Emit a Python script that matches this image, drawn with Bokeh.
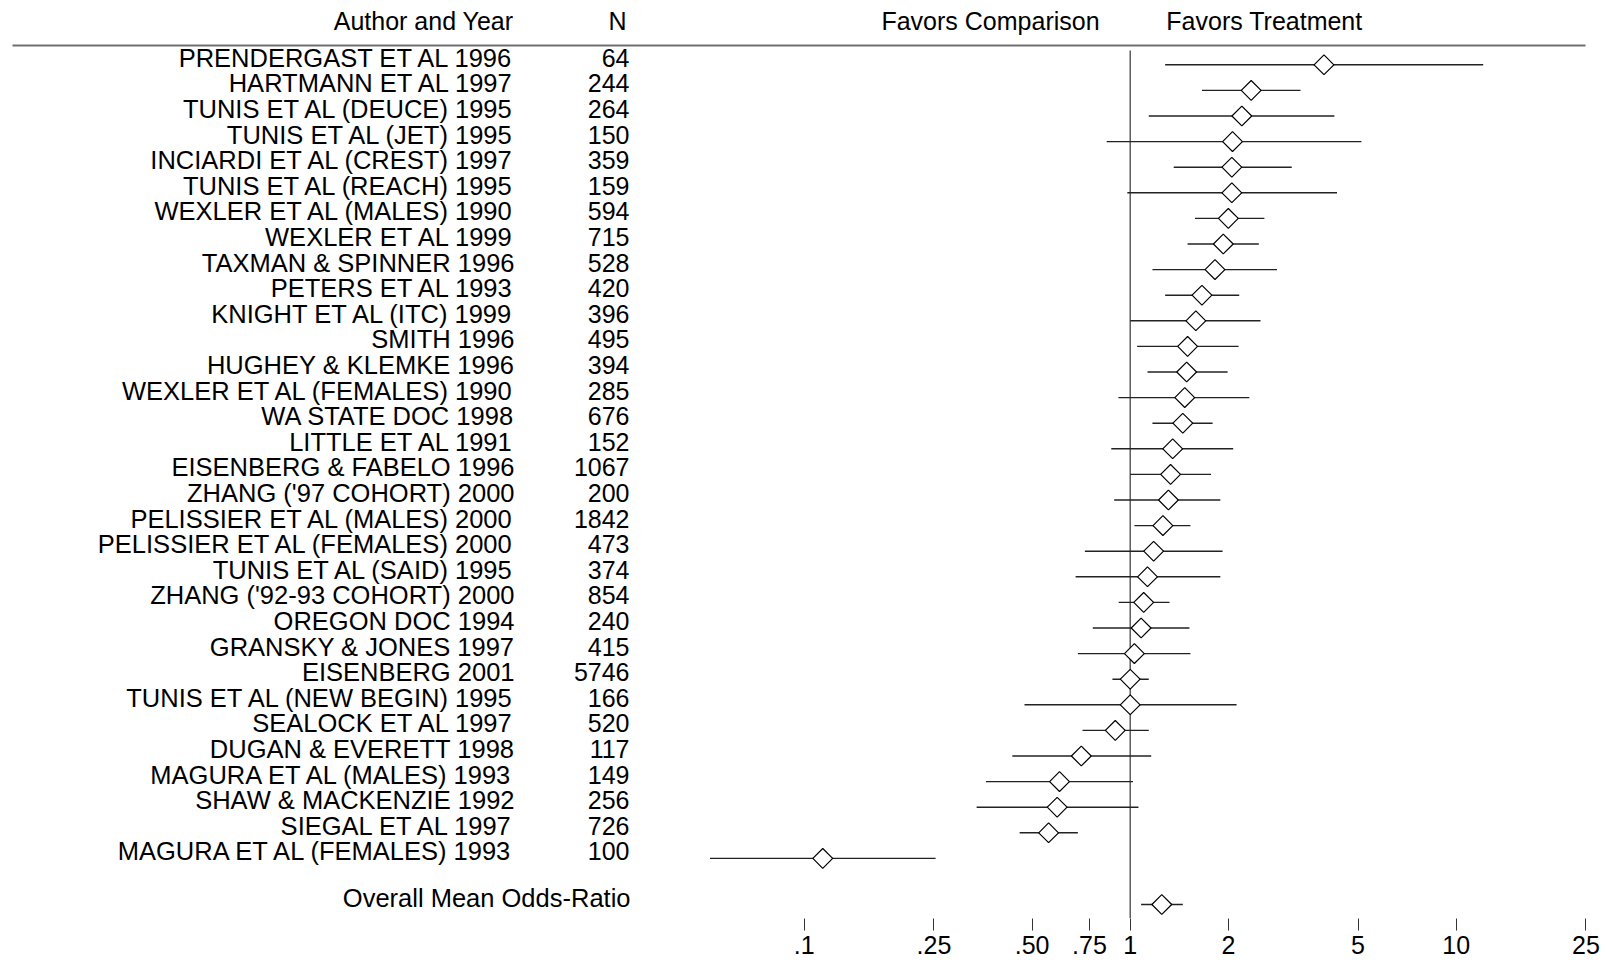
import math
from bokeh.plotting import figure
from bokeh.models import Range1d, LinearScale, FixedTicker, ColumnDataSource
from bokeh.core.properties import value
from bokeh.embed import file_html
from bokeh.resources import INLINE

# ---------------- data ----------------
studies = [
    "PRENDERGAST ET AL 1996", "HARTMANN ET AL 1997", "TUNIS ET AL (DEUCE) 1995",
    "TUNIS ET AL (JET) 1995", "INCIARDI ET AL (CREST) 1997", "TUNIS ET AL (REACH) 1995",
    "WEXLER ET AL (MALES) 1990", "WEXLER ET AL 1999", "TAXMAN & SPINNER 1996",
    "PETERS ET AL 1993", "KNIGHT ET AL (ITC) 1999", "SMITH 1996",
    "HUGHEY & KLEMKE 1996", "WEXLER ET AL (FEMALES) 1990", "WA STATE DOC 1998",
    "LITTLE ET AL 1991", "EISENBERG & FABELO 1996", "ZHANG ('97 COHORT) 2000",
    "PELISSIER ET AL (MALES) 2000", "PELISSIER ET AL (FEMALES) 2000", "TUNIS ET AL (SAID) 1995",
    "ZHANG ('92-93 COHORT) 2000", "OREGON DOC 1994", "GRANSKY & JONES 1997",
    "EISENBERG 2001", "TUNIS ET AL (NEW BEGIN) 1995", "SEALOCK ET AL 1997",
    "DUGAN & EVERETT 1998", "MAGURA ET AL (MALES) 1993", "SHAW & MACKENZIE 1992",
    "SIEGAL ET AL 1997", "MAGURA ET AL (FEMALES) 1993",
]
n_sizes = [64, 244, 264, 150, 359, 159, 594, 715, 528, 420, 396, 495, 394, 285, 676, 152,
           1067, 200, 1842, 473, 374, 854, 240, 415, 5746, 166, 520, 117, 149, 256, 726, 100]
odds_ratio = [3.93, 2.35, 2.20, 2.06, 2.05, 2.05, 2.00, 1.93, 1.82, 1.66, 1.59, 1.50, 1.49,
              1.47, 1.45, 1.35, 1.33, 1.31, 1.26, 1.18, 1.13, 1.10, 1.08, 1.03, 1.00, 1.00,
              0.900, 0.708, 0.607, 0.597, 0.562, 0.114]
ci_low = [1.28, 1.66, 1.14, 0.847, 1.36, 0.98, 1.58, 1.50, 1.17, 1.28, 1.00, 1.05, 1.13,
          0.92, 1.17, 0.875, 1.00, 0.893, 1.03, 0.726, 0.680, 0.922, 0.768, 0.691, 0.882,
          0.474, 0.714, 0.435, 0.361, 0.338, 0.458, 0.0514]
ci_high = [12.1, 3.33, 4.23, 5.12, 3.13, 4.31, 2.58, 2.48, 2.82, 2.16, 2.51, 2.15, 1.99,
           2.32, 1.79, 2.07, 1.77, 1.89, 1.53, 1.92, 1.89, 1.32, 1.52, 1.53, 1.14, 2.12,
           1.14, 1.16, 1.02, 1.06, 0.691, 0.253]
overall_label = "Overall Mean Odds-Ratio"
overall_or = [1.25]
overall_low = [1.08]
overall_high = [1.45]
tick_values = [0.1, 0.25, 0.5, 0.75, 1, 2, 5, 10, 25]
tick_labels = [".1", ".25", ".50", ".75", "1", "2", "5", "10", "25"]

# ---------------- layout (pixels) ----------------
W, H = 1607, 963
BOTTOM = 45
X0_PX = 1129.7      # page x of odds-ratio 1
DECADE = 326.0      # pixels per decade
ROW0 = 64.3         # page y of first row
ROWH = 25.6         # row spacing
MARGIN = 0
frame_bottom_px = MARGIN + H - BOTTOM

def px_to_or(px):
    return 10 ** ((px - X0_PX) / DECADE)

def py_to_row(py):
    return (py - ROW0) / ROWH

FONT = value("Liberation Sans")
FS = "25px"
FS_ROW = "25.5px"

p = figure(width=W, height=H, output_backend="svg", toolbar_location=None,
           x_axis_type="log", y_axis_location=None,
           x_range=Range1d(px_to_or(MARGIN), px_to_or(MARGIN + W)),
           y_range=Range1d(py_to_row(frame_bottom_px), py_to_row(MARGIN)),
           min_border_left=0, min_border_right=0, min_border_top=0,
           min_border_bottom=BOTTOM)
p.outline_line_color = None
p.xgrid.visible = False
p.ygrid.visible = False
p.background_fill_color = "white"
p.border_fill_color = "white"

p.extra_x_ranges = {"px": Range1d(MARGIN, MARGIN + W)}
p.extra_x_scales = {"px": LinearScale()}
p.extra_y_ranges = {"py": Range1d(frame_bottom_px, MARGIN)}
p.extra_y_scales = {"py": LinearScale()}

rows = list(range(len(studies)))
overall_row = [py_to_row(904)]

# header rule
p.segment(x0=[12], x1=[1585], y0=[45], y1=[45], line_color="#707070", line_width=2,
          x_range_name="px", y_range_name="py")
# line of no effect
p.segment(x0=[1], x1=[1], y0=[50], y1=[frame_bottom_px], line_color="#444444",
          line_width=1.3, y_range_name="py")

src = ColumnDataSource(dict(study=studies, n=[str(v) for v in n_sizes], or_=odds_ratio,
                            lo=ci_low, hi=ci_high, row=rows))
p.segment(x0="lo", x1="hi", y0="row", y1="row", source=src, line_color="#222222",
          line_width=1.4)
p.scatter(x="or_", y="row", source=src, marker="square", angle=math.pi / 4, size=14,
          fill_color="white", line_color="black", line_width=1.2)

osrc = ColumnDataSource(dict(or_=overall_or, lo=overall_low, hi=overall_high, row=overall_row))
p.segment(x0="lo", x1="hi", y0="row", y1="row", source=osrc, line_color="#222222",
          line_width=1.4)
p.scatter(x="or_", y="row", source=osrc, marker="square", angle=math.pi / 4, size=14,
          fill_color="white", line_color="black", line_width=1.2)

# texts
p.text(x=514, y="row", text="study", source=src, text_align="right",
       text_baseline="middle", text_font=FONT, text_font_size=FS_ROW, text_color="black",
       y_offset=-7, x_range_name="px")
p.text(x=629, y="row", text="n", source=src, text_align="right",
       text_baseline="middle", text_font=FONT, text_font_size=FS, text_color="black",
       y_offset=-7, x_range_name="px")
p.text(x=[630], y=[897], text=[overall_label], text_align="right", text_baseline="middle",
       text_font=FONT, text_font_size=FS_ROW, text_color="black",
       x_range_name="px", y_range_name="py")
p.text(x=[513, 626], y=[20, 20], text=["Author and Year", "N"], text_align="right",
       text_baseline="middle", text_font=FONT, text_font_size=FS, text_color="black",
       x_range_name="px", y_range_name="py")
p.text(x=[990, 1264], y=[20.5, 20.5], text=["Favors Comparison", "Favors Treatment"],
       text_align="center", text_baseline="middle", text_font=FONT, text_font_size=FS,
       text_color="black", x_range_name="px", y_range_name="py")

# axis
ax = p.xaxis[0]
ax.ticker = FixedTicker(ticks=tick_values, minor_ticks=[])
ax.major_label_overrides = {v: l for v, l in zip(tick_values, tick_labels)}
ax.axis_line_color = None
ax.major_tick_in = 0
ax.major_tick_out = 12
ax.major_tick_line_color = "#333333"
ax.major_tick_line_width = 1
ax.minor_tick_line_color = None
ax.major_label_standoff = 5
ax.major_label_text_font = "Liberation Sans"
ax.major_label_text_font_size = FS
ax.major_label_text_color = "black"

open("out.html", "w").write(file_html(p, INLINE))
